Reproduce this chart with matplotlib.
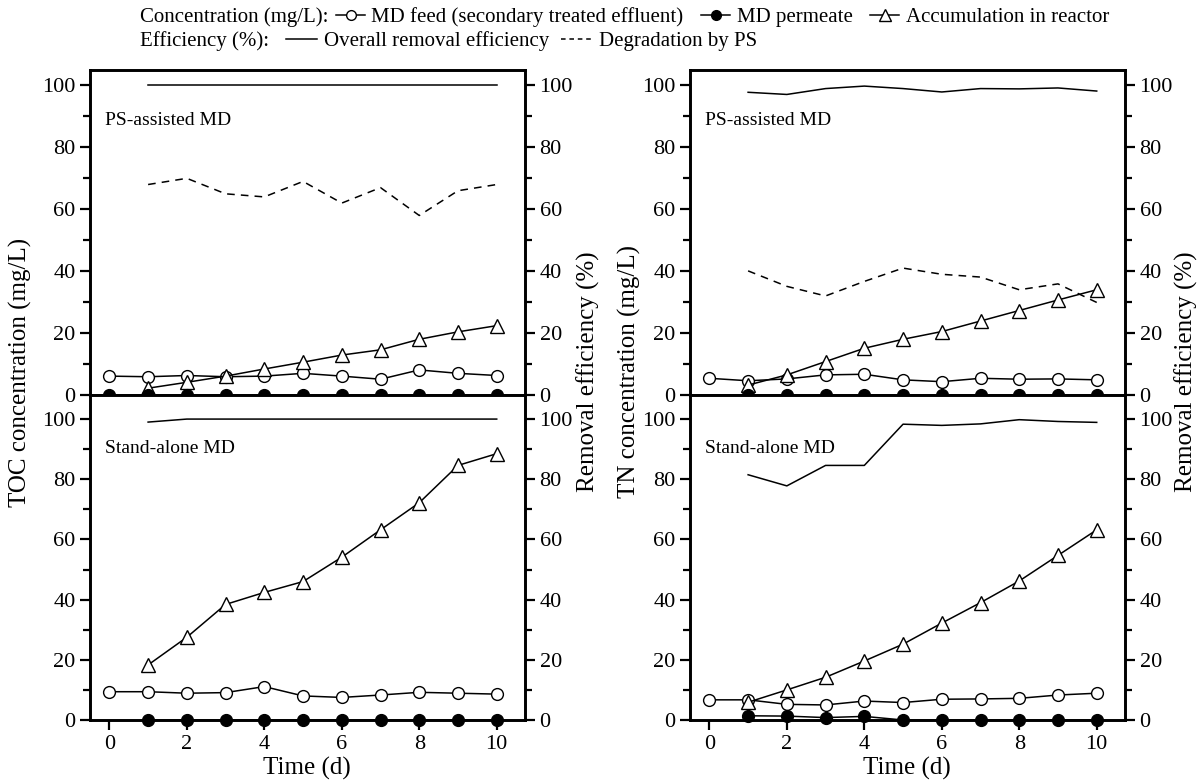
import numpy as np
import matplotlib
matplotlib.use('Agg')
import matplotlib.pyplot as plt
from matplotlib.lines import Line2D

plt.rcParams['font.family'] = ['Liberation Serif', 'DejaVu Serif']

# -----------------
#    Data
# -----------------
days_all = [0, 1, 2, 3, 4, 5, 6, 7, 8, 9, 10]
days = [1, 2, 3, 4, 5, 6, 7, 8, 9, 10]

# TOC, PS-assisted MD
toc_ps_feed = [6.1, 5.9, 6.3, 5.9, 6.1, 7.0, 6.1, 5.1, 8.1, 7.0, 6.3]
toc_ps_perm = [0, 0, 0, 0, 0, 0, 0, 0, 0, 0, 0]
toc_ps_acc = [2.2, 4.1, 6.1, 8.4, 10.6, 12.9, 14.6, 18.0, 20.4, 22.4]
toc_ps_overall = [100, 100, 100, 100, 100, 100, 100, 100, 100, 100]
toc_ps_degr = [68, 70, 65, 64, 69, 62, 67, 58, 66, 68]

# TOC, stand-alone MD
toc_sa_feed = [9.4, 9.4, 8.9, 9.1, 11.1, 8.0, 7.5, 8.3, 9.2, 8.9, 8.6]
toc_sa_perm = [0, 0, 0, 0, 0, 0, 0, 0, 0, 0]
toc_sa_acc = [18.3, 27.5, 38.4, 42.4, 46.0, 54.1, 63.2, 72.2, 84.6, 88.5]
toc_sa_overall = [99, 100, 100, 100, 100, 100, 100, 100, 100, 100]

# TN, PS-assisted MD
tn_ps_feed = [5.4, 4.6, 5.2, 6.5, 6.7, 4.9, 4.3, 5.4, 5.1, 5.2, 4.9]
tn_ps_perm = [0, 0, 0, 0, 0, 0, 0, 0, 0, 0]
tn_ps_acc = [3.2, 6.5, 10.8, 15.1, 18.0, 20.5, 23.9, 27.3, 30.7, 34.0]
tn_ps_overall = [97.8, 97.1, 99.0, 99.8, 99.0, 97.9, 99.0, 98.9, 99.2, 98.2]
tn_ps_degr = [40.1, 35.1, 32.0, 36.7, 41.0, 39.0, 38.1, 34.0, 35.9, 29.9]

# TN, stand-alone MD
tn_sa_feed = [6.7, 6.7, 5.2, 5.0, 6.3, 5.8, 6.9, 7.0, 7.2, 8.3, 8.9]
tn_sa_perm = [1.4, 1.3, 0.8, 1.2, 0, 0, 0, 0, 0, 0]
tn_sa_acc = [5.9, 10.0, 14.2, 19.6, 25.2, 32.2, 39.0, 46.2, 54.7, 63.2]
tn_sa_overall = [81.5, 77.8, 84.6, 84.6, 98.3, 97.9, 98.4, 99.8, 99.2, 98.9]

# -----------------
#    Styles
# -----------------
W, H = 1203, 782
LW = 1.1
MS = 8.5
SPW = 1.9
TICK_FS = 16
LAB_FS = 18
LAB_Y = 372

feed_kw = dict(color='k', lw=LW, marker='o', ms=MS, mfc='white', mec='k', mew=1.0)
perm_kw = dict(color='k', lw=LW, marker='o', ms=MS, mfc='k', mec='k', clip_on=False, zorder=5)
acc_kw = dict(color='k', lw=LW, marker='^', ms=MS + 1.5, mfc='white', mec='k', mew=1.0)
ovr_kw = dict(color='k', lw=LW)
deg_kw = dict(color='k', lw=LW, ls=(0, (5, 4)))

fig = plt.figure(figsize=(W / 100, H / 100), dpi=100)


def px_rect(x0, y0, x1, y1):
    return [x0 / W, 1 - y1 / H, (x1 - x0) / W, (y1 - y0) / H]


def style_axes(ax, ymax, bottom_ticks):
    ax.set_xlim(-0.5, 10.73)
    ax.set_ylim(0, ymax)
    ax.set_yticks([0, 20, 40, 60, 80, 100])
    ax.set_yticks([10, 30, 50, 70, 90], minor=True)
    ax.set_xticks([0, 2, 4, 6, 8, 10])
    for s in ax.spines.values():
        s.set_linewidth(SPW)
    ax.tick_params(axis='both', which='major', direction='out', length=7, width=1.6,
                   labelsize=TICK_FS, pad=3.5)
    ax.tick_params(axis='both', which='minor', direction='out', length=5, width=1.6)
    if not bottom_ticks:
        ax.tick_params(axis='x', which='both', bottom=False, labelbottom=False)


def panel(rect, ymax, bottom_ticks, feed, perm, perm_days, acc, overall, degr, title):
    ax = fig.add_axes(rect)
    ax.plot(days_all, feed, **feed_kw)
    ax.plot(days, acc, **acc_kw)
    ax.plot(perm_days, perm, **perm_kw)
    style_axes(ax, ymax, bottom_ticks)
    ax.text(0.035, 0.845 if ymax < 106 else 0.835, title, transform=ax.transAxes,
            fontsize=14, ha='left', va='center')
    ax2 = ax.twinx()
    ax2.plot(days, overall, **ovr_kw)
    if degr is not None:
        ax2.plot(days, degr, **deg_kw)
    style_axes(ax2, ymax, bottom_ticks)
    ax2.tick_params(axis='x', which='both', bottom=False, labelbottom=False)
    return ax, ax2


# left column: TOC
panel(px_rect(90, 70, 525, 395), 105, False, toc_ps_feed, toc_ps_perm, days_all,
      toc_ps_acc, toc_ps_overall, toc_ps_degr, 'PS-assisted MD')
panel(px_rect(90, 395, 525, 720), 108, True, toc_sa_feed, toc_sa_perm, days,
      toc_sa_acc, toc_sa_overall, None, 'Stand-alone MD')

# right column: TN
panel(px_rect(690, 70, 1125, 395), 105, False, tn_ps_feed, tn_ps_perm, days,
      tn_ps_acc, tn_ps_overall, tn_ps_degr, 'PS-assisted MD')
panel(px_rect(690, 395, 1125, 720), 108, True, tn_sa_feed, tn_sa_perm, days,
      tn_sa_acc, tn_sa_overall, None, 'Stand-alone MD')

# axis labels
fig.text(20 / W, 1 - LAB_Y / H, 'TOC concentration (mg/L)', rotation=90,
         ha='center', va='center', fontsize=LAB_FS)
fig.text(588 / W, 1 - LAB_Y / H, 'Removal efficiency (%)', rotation=90,
         ha='center', va='center', fontsize=LAB_FS)
fig.text(629 / W, 1 - LAB_Y / H, 'TN concentration (mg/L)', rotation=90,
         ha='center', va='center', fontsize=LAB_FS)
fig.text(1186 / W, 1 - LAB_Y / H, 'Removal efficiency (%)', rotation=90,
         ha='center', va='center', fontsize=LAB_FS)
fig.text(307 / W, 1 - 768 / H, 'Time (d)', ha='center', va='center', fontsize=LAB_FS)
fig.text(907 / W, 1 - 768 / H, 'Time (d)', ha='center', va='center', fontsize=LAB_FS)

# -----------------
#    Legend
# -----------------
LEG_FS = 15
h_feed = Line2D([], [], color='k', lw=LW, marker='o', ms=7, mfc='white', mec='k')
h_perm = Line2D([], [], color='k', lw=LW, marker='o', ms=7, mfc='k', mec='k')
h_acc = Line2D([], [], color='k', lw=LW, marker='^', ms=8, mfc='white', mec='k')
h_ovr = Line2D([], [], color='k', lw=LW)
h_deg = Line2D([], [], color='k', lw=LW, ls=(0, (3, 2.5)))

fig.text(140 / W, 1 - 17 / H, 'Concentration (mg/L):', ha='left', va='center', fontsize=LEG_FS)
fig.legend([h_feed, h_perm, h_acc],
           ['MD feed (secondary treated effluent)', 'MD permeate', 'Accumulation in reactor'],
           loc='center left', bbox_to_anchor=(336 / W, 1 - 17 / H), ncol=3, frameon=False,
           fontsize=LEG_FS, handlelength=1.4, handletextpad=0.3, columnspacing=0.85,
           borderpad=0, borderaxespad=0)
fig.text(140 / W, 1 - 41 / H, 'Efficiency (%):', ha='left', va='center', fontsize=LEG_FS)
fig.legend([h_ovr, h_deg], ['Overall removal efficiency', 'Degradation by PS'],
           loc='center left', bbox_to_anchor=(286 / W, 1 - 41 / H), ncol=2, frameon=False,
           fontsize=LEG_FS, handlelength=1.5, handletextpad=0.3, columnspacing=0.6,
           borderpad=0, borderaxespad=0)

fig.savefig('out.png', dpi=100)
